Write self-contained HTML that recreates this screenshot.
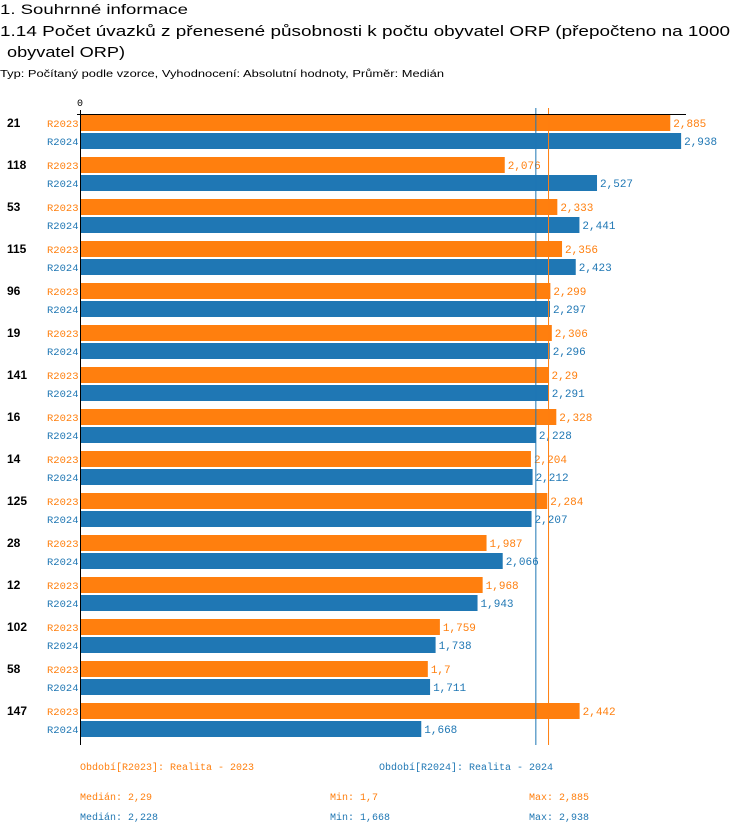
<!DOCTYPE html>
<html><head><meta charset="utf-8"><style>
body{margin:0;background:#fff}
svg{display:block;font-family:"Liberation Sans",sans-serif}
.m{font-family:"Liberation Mono",monospace}
</style></head><body>
<svg id="c" width="750" height="834">
<text x="0" y="14" font-size="14" textLength="188" lengthAdjust="spacingAndGlyphs">1. Souhrnné informace</text>
<text x="0" y="36" font-size="15" textLength="730" lengthAdjust="spacingAndGlyphs">1.14 Počet úvazků z přenesené působnosti k počtu obyvatel ORP (přepočteno na 1000</text>
<text x="7" y="57" font-size="15" textLength="118" lengthAdjust="spacingAndGlyphs">obyvatel ORP)</text>
<text x="0" y="77" font-size="10" textLength="444" lengthAdjust="spacingAndGlyphs">Typ: Počítaný podle vzorce, Vyhodnocení: Absolutní hodnoty, Průměr: Medián</text>
<g id="g"></g>
</svg>
<script>
const categories=["21","118","53","115","96","19","141","16","14","125","28","12","102","58","147"];
const r2023=[2.885,2.076,2.333,2.356,2.299,2.306,2.29,2.328,2.204,2.284,1.987,1.968,1.759,1.7,2.442];
const r2024=[2.938,2.527,2.441,2.423,2.297,2.296,2.291,2.228,2.212,2.207,2.066,1.943,1.738,1.711,1.668];
const labels2023=["2,885","2,076","2,333","2,356","2,299","2,306","2,29","2,328","2,204","2,284","1,987","1,968","1,759","1,7","2,442"];
const labels2024=["2,938","2,527","2,441","2,423","2,297","2,296","2,291","2,228","2,212","2,207","2,066","1,943","1,738","1,711","1,668"];
const median2023=2.29, median2024=2.228;
const O="#ff7f0e",B="#1f77b4",NS="http://www.w3.org/2000/svg";
const g=document.getElementById('g');
const x=v=>80+v*204.6;
const yG=i=>115+i*42;
function mk(t,a,txt){const e=document.createElementNS(NS,t);for(const k in a)e.setAttribute(k,a[k]);if(txt!==undefined)e.textContent=txt;g.appendChild(e);return e;}
let e;
e=mk('text',{x:77,y:106,'font-size':10,class:'m'},'0');


categories.forEach((c,i)=>{
 const y=yG(i);
 e=mk('text',{x:7,y:y+12,'font-size':12,'font-weight':'bold'},c);
 
 
 e=mk('text',{x:47,y:y+12,'font-size':10.5,fill:O,class:'m'},'R2023');
 
 
 e=mk('text',{x:47,y:y+30,'font-size':10.5,fill:B,class:'m'},'R2024');
 
 
 e=mk('rect',{x:81,y:y,width:x(r2023[i])-81,height:16,fill:O});
 
 
 e=mk('rect',{x:81,y:y+18,width:x(r2024[i])-81,height:16,fill:B});
 
 
 e=mk('text',{x:x(r2023[i])+3,y:y+12,'font-size':11,fill:O,class:'m'},labels2023[i]);
 
 
 e=mk('text',{x:x(r2024[i])+3,y:y+30,'font-size':11,fill:B,class:'m'},labels2024[i]);
 
 
});
e=mk('line',{x1:x(median2024),x2:x(median2024),y1:108,y2:745,stroke:B,'stroke-width':1});


e=mk('line',{x1:x(median2023),x2:x(median2023),y1:108,y2:745,stroke:O,'stroke-width':1});


e=mk('line',{x1:77,x2:686,y1:114.5,y2:114.5,stroke:'#000','stroke-width':1});


e=mk('line',{x1:80.5,x2:80.5,y1:110,y2:745,stroke:'#000','stroke-width':1});


const foot=[[80,770,O,'Období[R2023]: Realita - 2023','legend-r2023'],[379,770,B,'Období[R2024]: Realita - 2024','legend-r2024'],
[80,800,O,'Medián: 2,29','median-r2023'],[330,800,O,'Min: 1,7','min-r2023'],[529,800,O,'Max: 2,885','max-r2023'],
[80,820,B,'Medián: 2,228','median-r2024'],[330,820,B,'Min: 1,668','min-r2024'],[529,820,B,'Max: 2,938','max-r2024']];
foot.forEach(f=>{e=mk('text',{x:f[0],y:f[1],'font-size':10,fill:f[2],class:'m'},f[3]);
 
 });
</script>
</body></html>
